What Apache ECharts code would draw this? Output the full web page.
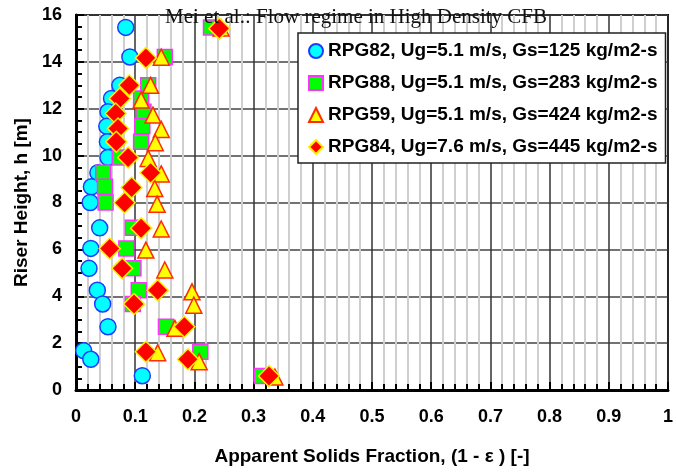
<!DOCTYPE html>
<html>
<head>
<meta charset="utf-8">
<script src="https://cdn.jsdelivr.net/npm/echarts@6/dist/echarts.min.js"></script>
<style>
  html, body { margin: 0; padding: 0; background: #ffffff; }
  #chart { width: 676px; height: 472px; }
</style>
</head>
<body>
<div id="chart"></div>
<script>
// series names
const seriesNames = [
  "RPG82, Ug=5.1 m/s, Gs=125 kg/m2-s",
  "RPG88, Ug=5.1 m/s, Gs=283 kg/m2-s",
  "RPG59, Ug=5.1 m/s, Gs=424 kg/m2-s",
  "RPG84, Ug=7.6 m/s, Gs=445 kg/m2-s"
];

// RPG82 - circles
const rpg82Frac = [0.084, 0.091, 0.074, 0.060, 0.054, 0.052, 0.053, 0.054, 0.037, 0.026,
  0.024, 0.040, 0.025, 0.022, 0.036, 0.045, 0.054, 0.013, 0.025, 0.112];
const rpg82Height = [15.47, 14.21, 13.0, 12.44, 11.87, 11.25, 10.59, 9.92, 9.27, 8.67,
  8.0, 6.92, 6.04, 5.19, 4.26, 3.67, 2.70, 1.68, 1.31, 0.61];

// RPG88 - squares
const rpg88Frac = [0.228, 0.150, 0.122, 0.110, 0.114, 0.112, 0.110, 0.074, 0.046, 0.049,
  0.050, 0.096, 0.085, 0.097, 0.106, 0.096, 0.152, 0.210, 0.314];
const rpg88Height = [15.47, 14.21, 13.0, 12.44, 11.87, 11.25, 10.59, 9.92, 9.27, 8.67,
  8.0, 6.92, 6.04, 5.19, 4.26, 3.67, 2.70, 1.63, 0.60];

// RPG59 - triangles
const rpg59Frac = [0.245, 0.144, 0.126, 0.110, 0.130, 0.144, 0.134, 0.122, 0.144, 0.133,
  0.137, 0.144, 0.118, 0.150, 0.196, 0.199, 0.167, 0.138, 0.208, 0.336];
const rpg59Height = [15.45, 14.2, 13.0, 12.37, 11.73, 11.12, 10.55, 9.88, 9.22, 8.6,
  7.93, 6.87, 5.97, 5.12, 4.19, 3.62, 2.63, 1.59, 1.21, 0.55];

// RPG84 - diamonds
const rpg84Frac = [0.242, 0.118, 0.090, 0.074, 0.067, 0.071, 0.068, 0.088, 0.126, 0.094,
  0.082, 0.110, 0.057, 0.078, 0.138, 0.098, 0.183, 0.118, 0.189, 0.326];
const rpg84Height = [15.42, 14.17, 13.0, 12.44, 11.8, 11.16, 10.59, 9.92, 9.27, 8.64,
  7.99, 6.9, 6.04, 5.19, 4.26, 3.67, 2.70, 1.63, 1.31, 0.60];

function pairs(xs, ys) {
  return xs.map(function (x, i) { return [x, ys[i]]; });
}

const font = "Liberation Sans";
const chart = echarts.init(document.getElementById("chart"));

chart.setOption({
  animation: false,
  backgroundColor: "#ffffff",
  title: {
    text: "Mei et al.: Flow regime in High Density CFB",
    left: 160,
    top: 2,
    textStyle: {
      fontFamily: "Liberation Serif",
      fontSize: 21,
      fontWeight: "normal",
      color: "#111"
    }
  },
  legend: {
    orient: "vertical",
    left: 298,
    top: 33,
    padding: [8, 8, 6, 10],
    itemGap: 12,
    itemWidth: 14,
    itemHeight: 14,
    backgroundColor: "#ffffff",
    borderColor: "#222",
    borderWidth: 1.5,
    textStyle: {
      fontFamily: font,
      fontSize: 19,
      fontWeight: "bold",
      color: "#000",
      lineHeight: 20
    },
    data: seriesNames
  },
  grid: {
    left: 76,
    right: 5,
    top: 15,
    bottom: 82,
    show: true,
    borderColor: "#000",
    borderWidth: 2
  },
  xAxis: {
    type: "value",
    min: 0,
    max: 1,
    interval: 0.1,
    name: "Apparent Solids Fraction, (1 - ε ) [-]",
    nameLocation: "middle",
    nameGap: 57,
    nameTextStyle: { fontFamily: font, fontSize: 19, fontWeight: "bold", color: "#000" },
    axisLine: { lineStyle: { color: "#000", width: 3 } },
    axisTick: { inside: true, length: 8, lineStyle: { color: "#000", width: 2 } },
    minorTick: { show: true, splitNumber: 5, length: 6, lineStyle: { color: "#000", width: 2 } },
    splitLine: { show: true, lineStyle: { color: "#333", width: 1.5 } },
    minorSplitLine: { show: true, lineStyle: { color: "#cfcfcf", width: 2 } },
    axisLabel: { margin: 18, fontFamily: font, fontSize: 18, fontWeight: "bold", color: "#000" }
  },
  yAxis: {
    type: "value",
    min: 0,
    max: 16,
    interval: 2,
    name: "Riser Height, h [m]",
    nameLocation: "middle",
    nameGap: 45,
    nameTextStyle: { fontFamily: font, fontSize: 19, fontWeight: "bold", color: "#000" },
    axisLine: { lineStyle: { color: "#000", width: 3 } },
    axisTick: { inside: true, length: 8, lineStyle: { color: "#000", width: 2 } },
    minorTick: { show: true, splitNumber: 4, length: 6, lineStyle: { color: "#000", width: 2 } },
    splitLine: { show: true, lineStyle: { color: "#444", width: 1.5 } },
    axisLabel: { margin: 14, fontFamily: font, fontSize: 18, fontWeight: "bold", color: "#000" }
  },
  series: [
    {
      name: seriesNames[0],
      type: "scatter",
      symbol: "circle",
      symbolSize: 16,
      itemStyle: { color: "#00ffff", borderColor: "#1a3cff", borderWidth: 1.5, opacity: 1 },
      data: pairs(rpg82Frac, rpg82Height)
    },
    {
      name: seriesNames[1],
      type: "scatter",
      symbol: "rect",
      symbolSize: 15,
      itemStyle: { color: "#00ff00", borderColor: "#ff33ff", borderWidth: 1.5, opacity: 1 },
      data: pairs(rpg88Frac, rpg88Height)
    },
    {
      name: seriesNames[2],
      type: "scatter",
      symbol: "triangle",
      symbolSize: 16,
      itemStyle: { color: "#ffff00", borderColor: "#ff2a00", borderWidth: 1.5, opacity: 1 },
      data: pairs(rpg59Frac, rpg59Height)
    },
    {
      name: seriesNames[3],
      type: "scatter",
      symbol: "diamond",
      symbolSize: 21,
      itemStyle: { color: "#ff0000", borderColor: "#ffee00", borderWidth: 1.5, opacity: 1 },
      data: pairs(rpg84Frac, rpg84Height)
    }
  ]
});
</script>
</body>
</html>
